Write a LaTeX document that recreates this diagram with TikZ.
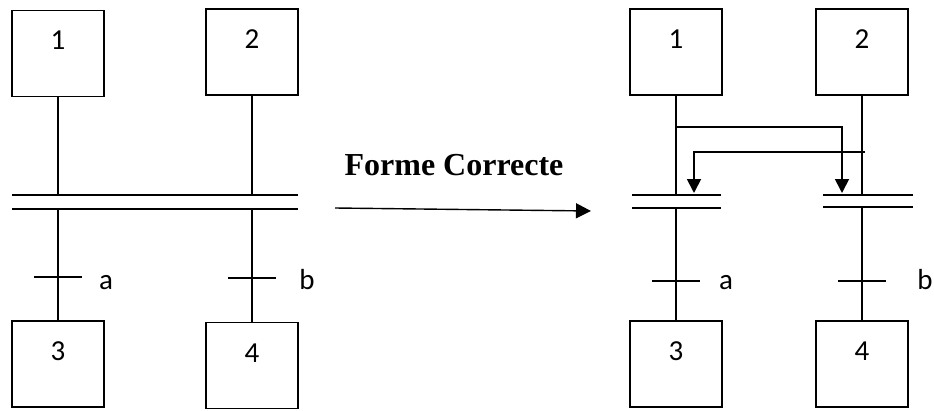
\documentclass[tikz,border=0pt]{standalone}
\usepackage{fontspec}
\setmainfont{Carlito}
\newfontfamily\titlefont{Liberation Serif}
\usetikzlibrary{arrows.meta}

\begin{document}
\begin{tikzpicture}[x=1pt,y=-1pt,
  line width=1.8pt,
  stepbox/.style={draw, line width=1.8pt, minimum width=92pt, minimum height=86pt, inner sep=0pt},
  steplabel/.style={font=\fontsize{29}{32}\selectfont, anchor=base, inner sep=0pt},
  cond/.style={font=\fontsize{29}{32}\selectfont, anchor=base, inner sep=0pt},
  tip/.style={-{Triangle[length=14pt,width=14pt]}}
]
\useasboundingbox (0,0) rectangle (934,410);

% ---------- left: single double bar (wrong form) ----------
\node[stepbox] (L1) at (58,53.5) {};
\node[stepbox] (L2) at (252,52) {};
\node[stepbox] (L3) at (58,364) {};
\node[stepbox] (L4) at (252,365.5) {};
\node[steplabel] (nL1) at (58,49) {1};
\node[steplabel] (nL2) at (252,48) {2};
\node[steplabel] (nL3) at (58,360) {3};
\node[steplabel] (nL4) at (252,362) {4};

\coordinate (LtW) at (12,195);  \coordinate (LtE) at (298,195);
\coordinate (LbW) at (12,209);  \coordinate (LbE) at (298,209);
\draw (LtW) -- (LtE);
\draw (LbW) -- (LbE);

\draw (L1.south) -- (L1.south |- LtW);
\draw (L2.south) -- (L2.south |- LtW);
\draw (L3.north |- LbW) -- (L3.north);
\draw (L4.north |- LbW) -- (L4.north);

\coordinate (La) at (58,277);
\coordinate (Lb) at (252,278);
\draw ([xshift=-24pt]La) -- ([xshift=24pt]La);
\draw ([xshift=-24pt]Lb) -- ([xshift=24pt]Lb);
\node[cond] (ca) at (106,289) {a};
\node[cond] (cb) at (307,289) {b};

% ---------- middle arrow ----------
\node[font=\titlefont\bfseries\fontsize{32}{35}\selectfont, anchor=base, inner sep=0pt] (title) at (454,175) {Forme Correcte};
\coordinate (ma) at (335,208);
\coordinate (mb) at (591,211);
\draw[line width=1.4pt,-{Triangle[length=15pt,width=15pt]}] (ma) -- (mb);

% ---------- right: two synchronised transitions ----------
\node[stepbox] (R1) at (676,52) {};
\node[stepbox] (R2) at (862,52) {};
\node[stepbox] (R3) at (676,364) {};
\node[stepbox] (R4) at (862,364) {};
\node[steplabel] (nR1) at (676,48) {1};
\node[steplabel] (nR2) at (862,48) {2};
\node[steplabel] (nR3) at (676,360) {3};
\node[steplabel] (nR4) at (862,360) {4};

\coordinate (RatW) at (632,195); \coordinate (RatE) at (721,195);
\coordinate (RabW) at (632,208); \coordinate (RabE) at (721,208);
\coordinate (RbtW) at (823,195); \coordinate (RbtE) at (913,195);
\coordinate (RbbW) at (823,207); \coordinate (RbbE) at (913,207);
\draw (RatW) -- (RatE);
\draw (RabW) -- (RabE);
\draw (RbtW) -- (RbtE);
\draw (RbbW) -- (RbbE);

\draw (R1.south) -- (R1.south |- RatW);
\draw (R2.south) -- (R2.south |- RbtW);
\draw (R3.north |- RabW) -- (R3.north);
\draw (R4.north |- RbbW) -- (R4.north);

% cross links between the two branches
\coordinate (f1) at (676,127);
\coordinate (t2) at (842,193);
\draw[tip] (f1) -| (t2);
\coordinate (f2) at (865,152);
\coordinate (t1) at (694,193);
\draw[tip] (f2) -| (t1);

\coordinate (Ra) at (676,281);
\coordinate (Rb) at (862,281);
\draw ([xshift=-24pt]Ra) -- ([xshift=24pt]Ra);
\draw ([xshift=-24pt]Rb) -- ([xshift=24pt]Rb);
\node[cond] (cRa) at (726,289) {a};
\node[cond] (cRb) at (925,289) {b};
\end{tikzpicture}
\end{document}
